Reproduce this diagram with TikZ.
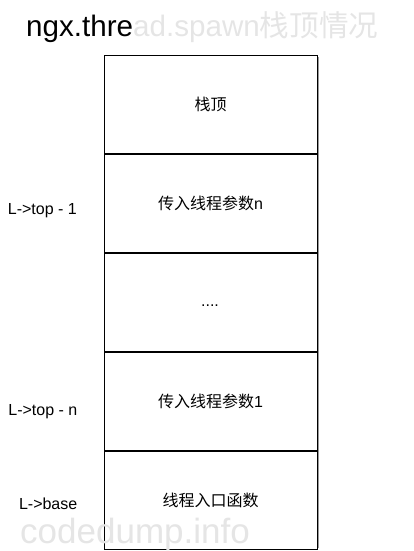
\documentclass[tikz,border=0pt]{standalone}
\usepackage{fontspec}
\setmainfont{Liberation Sans}
\newfontfamily\cjk{Noto Sans CJK SC}
\begin{document}
\begin{tikzpicture}[x=1pt,y=-1pt,
  cell/.style={draw=black, line width=1pt, fill=white, minimum width=213pt,
    minimum height=98pt, inner sep=0pt, anchor=north west},
  celltext/.style={font=\fontsize{16}{19}\selectfont, inner sep=0pt},
  lbl/.style={anchor=base east, inner sep=0pt, font=\fontsize{16}{19}\selectfont},
  wmark/.style={text=black!10, inner sep=0pt}]
\useasboundingbox (0,0) rectangle (414,551);
% title (partly whitened in the reference)
\node[anchor=base west, inner sep=0pt, font=\fontsize{29.6}{34}\selectfont] (title) at (26,36.5)
  {ngx.thre{\color{black!10}ad.spawn{\cjk 栈顶情况}}};
% shadow
\fill[black!40] (106,57.5) rectangle (319,547.5);
% stack cells
\node[cell] (r1) at (103.5,55) {};
\node[cell] (r2) at (r1.south west) {};
\node[cell] (r3) at (r2.south west) {};
\node[cell] (r4) at (r3.south west) {};
\node[cell] (r5) at (r4.south west) {};
\node[celltext] (t1) at (r1.center) {\cjk 栈顶};
\node[celltext] (t2) at (r2.center) {{\cjk 传入线程参数}n};
\node[celltext, anchor=base] (t3) at (210,306) {....};
\node[celltext] (t4) at (r4.center) {{\cjk 传入线程参数}1};
\node[celltext] (t5) at (r5.center) {\cjk 线程入口函数};
% labels
\node[lbl] (l1) at (77,214.5) {L->top - 1};
\node[lbl] (l2) at (77.5,415) {L->top - n};
\node[lbl] (l3) at (77.5,509) {L->base};
% watermark
\node[wmark, anchor=base west, font=\fontsize{35}{40}\selectfont] (wm) at (20,543) {codedump.info};
\end{tikzpicture}
\end{document}
